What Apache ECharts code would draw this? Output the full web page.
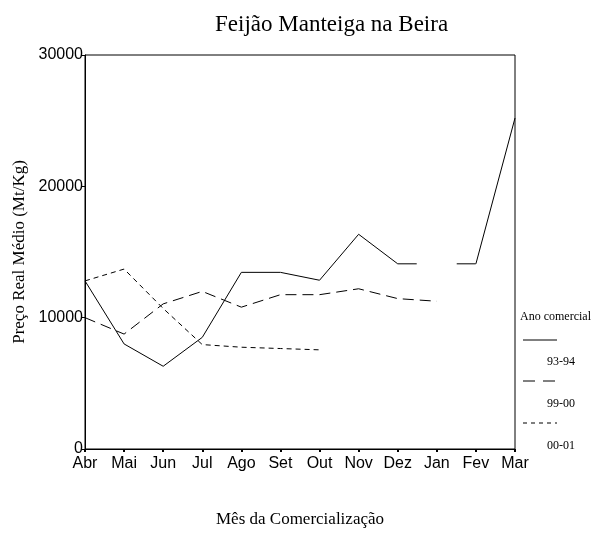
<!DOCTYPE html>
<html>
<head>
    <meta charset="utf-8">
    <script type="text/javascript" src="https://cdn.jsdelivr.net/npm/echarts@6/dist/echarts.min.js"></script>
    <title>Feijão Manteiga na Beira</title>
    <style>
        body { margin: 0; background: #fff; }
        #chart { width: 596px; height: 533px; }
    </style>
</head>
<body>
<div id="chart"></div>
<script type="text/javascript">
    // meses e valores
    var meses = ['Abr', 'Mai', 'Jun', 'Jul', 'Ago', 'Set', 'Out', 'Nov', 'Dez', 'Jan', 'Fev', 'Mar'];
    var y9394 = [12800, 8000, 6300, 8500, 13450, 13450, 12850, 16350, 14100, null, 14100, 25200];
    // troço Dez-Fev do 93-94, que aparece só com dois pedaços de linha
    var y9394ponte = [null, null, null, null, null, null, null, null, 14100, 14100, 14100, null];
    var y9900 = [10000, 8750, 11050, 12000, 10800, 11750, 11750, 12200, 11450, 11250, null, null];
    var y0001 = [12800, 13700, 10700, 7950, 7750, 7650, 7550, null, null, null, null, null];
    var yTicks = [0, 10000, 20000, 30000];

    var serif = '"Liberation Serif", "Times New Roman", serif';
    var sans = '"Liberation Sans", Arial, sans-serif';

    var myChart = echarts.init(document.getElementById('chart'));

    function linha(nome, dados, tipo) {
        return {
            name: nome,
            type: 'line',
            data: dados,
            showSymbol: false,
            symbol: 'none',
            connectNulls: false,
            animation: false,
            lineStyle: {color: '#000', width: 1, type: tipo}
        };
    }

    var option = {
        animation: false,
        title: {
            text: 'Feijão Manteiga na Beira',
            left: 210,
            top: 8,
            textStyle: {fontFamily: serif, fontSize: 23, fontWeight: 'normal', color: '#000'}
        },
        grid: {
            left: 85, right: 81, top: 55, bottom: 83,
            show: true, borderColor: '#000', borderWidth: 1
        },
        xAxis: {
            type: 'category',
            data: meses,
            boundaryGap: false,
            name: 'Mês da Comercialização',
            nameLocation: 'middle',
            nameGap: 62,
            nameTextStyle: {fontFamily: serif, fontSize: 17, color: '#000'},
            axisLine: {lineStyle: {color: '#000', width: 1}},
            axisTick: {length: 3, lineStyle: {color: '#000', width: 2}},
            axisLabel: {fontFamily: sans, fontSize: 16, color: '#000', margin: 7}
        },
        yAxis: {
            type: 'value',
            min: yTicks[0],
            max: yTicks[yTicks.length - 1],
            interval: 10000,
            name: 'Preço Real Médio (Mt/Kg)',
            nameLocation: 'middle',
            nameGap: 54,
            nameTextStyle: {fontFamily: serif, fontSize: 17, color: '#000'},
            splitLine: {show: false},
            axisLine: {show: true, lineStyle: {color: '#000', width: 1}},
            axisTick: {show: true, length: 3, lineStyle: {color: '#000', width: 1}},
            axisLabel: {
                fontFamily: sans, fontSize: 16, color: '#000', margin: 2,
                formatter: function (v) { return String(v); }
            }
        },
        series: [
            linha('93-94', y9394, 'solid'),
            linha('93-94b', y9394ponte, [19, 40]),
            linha('99-00', y9900, [11, 6]),
            linha('00-01', y0001, [5, 4])
        ],
        graphic: [
            {type: 'text', left: 520, top: 311, style: {text: 'Ano comercial', font: '12px ' + serif, fill: '#000'}},
            {type: 'line', shape: {x1: 523, y1: 340, x2: 557, y2: 340}, style: {stroke: '#000', lineWidth: 1}},
            {type: 'text', left: 547, top: 356, style: {text: '93-94', font: '12px ' + serif, fill: '#000'}},
            {type: 'line', shape: {x1: 523, y1: 381, x2: 557, y2: 381}, style: {stroke: '#000', lineWidth: 1, lineDash: [12, 8]}},
            {type: 'text', left: 547, top: 398, style: {text: '99-00', font: '12px ' + serif, fill: '#000'}},
            {type: 'line', shape: {x1: 523, y1: 423, x2: 557, y2: 423}, style: {stroke: '#000', lineWidth: 1, lineDash: [4, 4]}},
            {type: 'text', left: 547, top: 440, style: {text: '00-01', font: '12px ' + serif, fill: '#000'}}
        ]
    };
    myChart.setOption(option);
</script>
</body>
</html>
